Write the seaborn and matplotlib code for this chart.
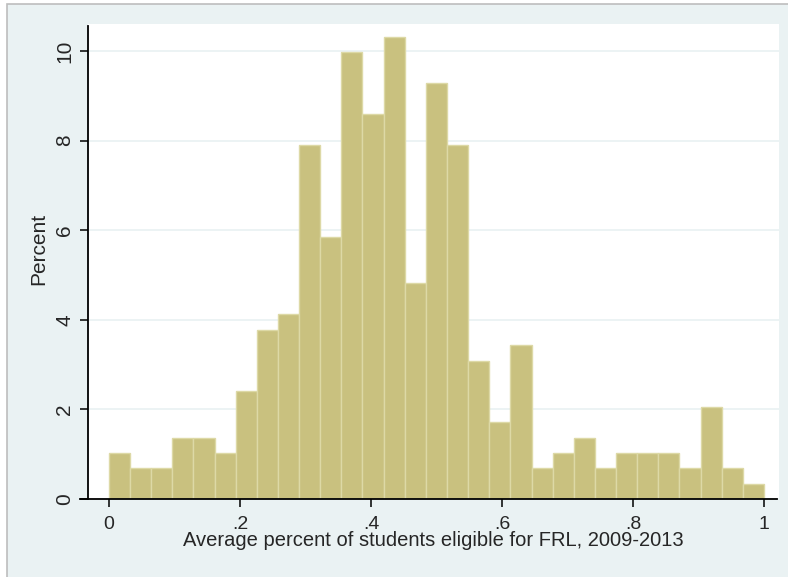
import numpy as np
import pandas as pd
import matplotlib
matplotlib.use("Agg")
import matplotlib.pyplot as plt
from matplotlib.patches import Rectangle
import seaborn as sns

# -----------------------------
# DATA
# -----------------------------
# 31 equal bins from 0 to 1, height in percent of schools
n_bins = 31
percent = [1.03, 0.69, 0.69, 1.37, 1.37, 1.03, 2.41, 3.78, 4.12, 7.90,
           5.84, 9.97, 8.59, 10.31, 4.81, 9.28, 7.90, 3.09, 1.72, 3.44,
           0.69, 1.03, 1.37, 0.69, 1.03, 1.03, 1.03, 0.69, 2.06, 0.69, 0.34]
bin_edges = np.linspace(0, 1, n_bins + 1)
bin_mid = (bin_edges[:-1] + bin_edges[1:]) / 2

x_ticks = [0, 0.2, 0.4, 0.6, 0.8, 1]
x_tick_labels = ["0", ".2", ".4", ".6", ".8", "1"]
y_ticks = [0, 2, 4, 6, 8, 10]

bar_color = "#C9C17F"
edge_color = "#DDD9A6"
back_color = "#EAF2F3"

df = pd.DataFrame({"frl": bin_mid, "pct": percent})

# -----------------------------
# PLOT
# -----------------------------
sns.set_style("white")
plt.rcParams["font.family"] = ["Liberation Sans", "DejaVu Sans"]

fig = plt.figure(figsize=(7.88, 5.77), dpi=100)
fig.patch.set_facecolor("white")

# outer graph region (Stata style), cropped on right/bottom
frame = Rectangle((7 / 788, -0.02), 1.05, 573 / 577 + 0.02,
                  transform=fig.transFigure, facecolor=back_color,
                  edgecolor="#BDBDBD", linewidth=1.2, zorder=-10)
fig.add_artist(frame)

ax = fig.add_axes([88 / 788, (577 - 499) / 577, (779 - 88) / 788, (499 - 24) / 577])
ax.set_facecolor("white")

sns.histplot(data=df, x="frl", weights="pct", bins=n_bins, binrange=(0, 1),
             color=bar_color, edgecolor=edge_color, linewidth=1.0, alpha=1, ax=ax)

ax.set_xlim(-0.032, 1.023)
ax.set_ylim(0, 10.6)

ax.yaxis.grid(True, color=back_color, linewidth=1.3)
ax.set_axisbelow(True)

for side in ["top", "right"]:
    ax.spines[side].set_visible(False)
ax.spines["left"].set_bounds(0, 10.55)
ax.spines["bottom"].set_bounds(-0.044, 1.02)
for side in ["left", "bottom"]:
    ax.spines[side].set_color("black")
    ax.spines[side].set_linewidth(1.3)
    ax.spines[side].set_clip_on(False)

ax.set_xticks(x_ticks)
ax.set_xticklabels(x_tick_labels)
ax.set_yticks(y_ticks)
ax.tick_params(axis="both", direction="out", length=6, width=1.1, color="black",
               bottom=True, left=True)
ax.tick_params(axis="x", labelsize=14, pad=6)
ax.tick_params(axis="y", labelsize=15, labelrotation=90, pad=4)
for lab in ax.get_yticklabels():
    lab.set_va("center")

ax.set_xlabel("Average percent of students eligible for FRL, 2009-2013",
              fontsize=14.5, labelpad=-1)
ax.set_ylabel("Percent", fontsize=15)
ax.yaxis.set_label_coords(-0.058, 0.526)

plt.savefig("out.png", dpi=100)
